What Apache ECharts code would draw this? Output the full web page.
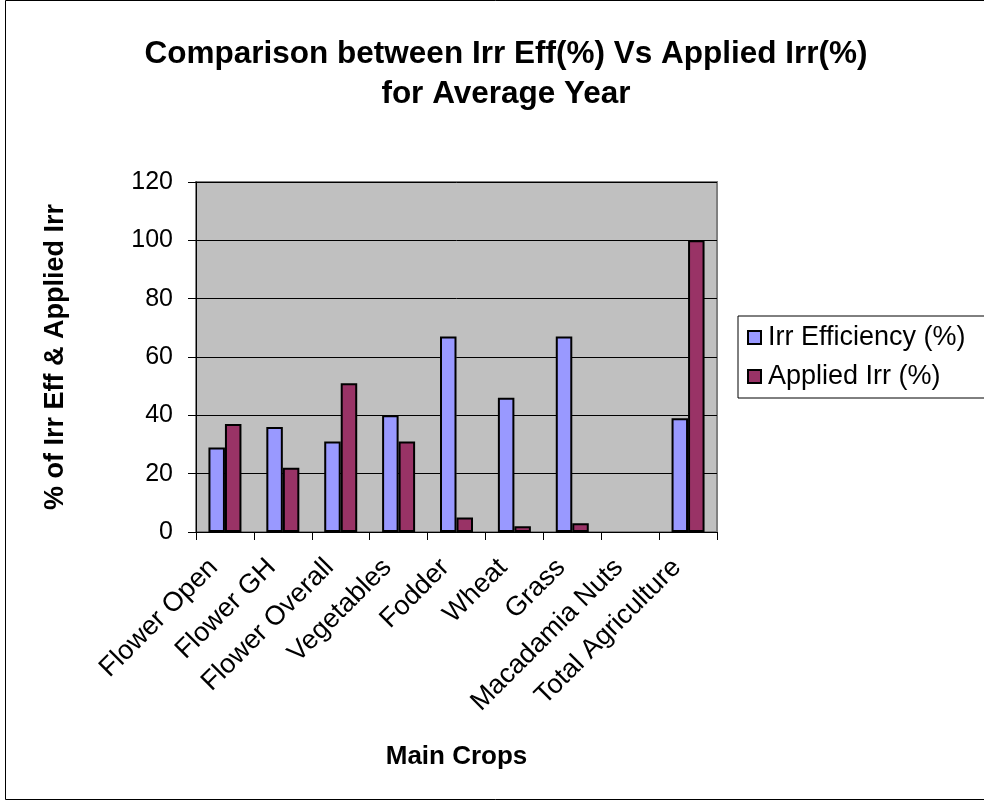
<!DOCTYPE html>
<html>
<head>
<meta charset="utf-8">
<script src="https://cdn.jsdelivr.net/npm/echarts@6/dist/echarts.min.js"></script>
<style>
  html, body { margin: 0; padding: 0; background: #fff; }
  #chart { width: 984px; height: 802px; }
</style>
</head>
<body>
<div id="chart"></div>
<script>
// Crop categories and the two measured series (percent)
const crops = ['Flower Open', 'Flower GH', 'Flower Overall', 'Vegetables', 'Fodder', 'Wheat', 'Grass', 'Macadamia Nuts', 'Total Agriculture'];
const irrEfficiency = [29, 36, 31, 40, 67, 46, 67, null, 39];
const appliedIrr = [37, 22, 51, 31, 5, 2, 3, null, 100];
const seriesNames = ['Irr Efficiency (%)', 'Applied Irr (%)'];

const FONT = '"Liberation Sans", Arial, sans-serif';
const chart = echarts.init(document.getElementById('chart'), null, { renderer: 'canvas' });

chart.setOption({
  backgroundColor: '#ffffff',
  animation: false,
  textStyle: { fontFamily: FONT, color: '#000' },
  graphic: [{
    type: 'rect',
    shape: { x: 5.5, y: 0.5, width: 990, height: 799 },
    style: { fill: 'none', stroke: '#000', lineWidth: 1 },
    silent: true
  }],
  title: {
    text: 'Comparison between Irr Eff(%) Vs Applied Irr(%)\nfor Average Year',
    left: 501,
    top: 29,
    textAlign: 'center',
    textStyle: { fontFamily: FONT, fontSize: 31.5, fontWeight: 'bold', color: '#000', lineHeight: 40 }
  },
  legend: {
    orient: 'vertical',
    left: 738,
    top: 316,
    width: 300,
    padding: [8, 60, 8, 9],
    itemGap: 12,
    itemWidth: 13,
    itemHeight: 13,
    borderColor: '#000',
    borderWidth: 1,
    backgroundColor: '#fff',
    icon: 'rect',
    textStyle: { fontFamily: FONT, fontSize: 27, color: '#000', padding: [0, 0, 0, 2] },
    data: seriesNames
  },
  grid: {
    left: 196,
    top: 182,
    width: 521,
    height: 350,
    show: true,
    backgroundColor: '#c0c0c0',
    borderColor: '#808080',
    borderWidth: 2
  },
  xAxis: {
    type: 'category',
    data: crops,
    name: 'Main Crops',
    nameLocation: 'middle',
    nameGap: 212,
    nameTextStyle: { fontFamily: FONT, fontSize: 26, fontWeight: 'bold', color: '#000' },
    axisLine: { show: true, lineStyle: { color: '#000', width: 1 } },
    axisTick: { show: true, alignWithLabel: false, length: 8, lineStyle: { color: '#000' } },
    axisLabel: { rotate: 45, fontFamily: FONT, fontSize: 27, color: '#000', margin: 20, interval: 0, padding: [0, 16, 0, 0] },
    splitLine: { show: false }
  },
  yAxis: {
    type: 'value',
    min: 0,
    max: 120,
    interval: 20,
    name: '% of Irr Eff & Applied Irr',
    nameLocation: 'middle',
    nameGap: 127,
    nameRotate: 90,
    nameTextStyle: { fontFamily: FONT, fontSize: 27, fontWeight: 'bold', color: '#000' },
    axisLine: { show: true, lineStyle: { color: '#000', width: 1 } },
    axisTick: { show: true, length: 8, lineStyle: { color: '#000' } },
    axisLabel: { fontFamily: FONT, fontSize: 25, color: '#000', margin: 23 },
    splitLine: { show: true, lineStyle: { color: '#000', width: 1 } }
  },
  series: [
    {
      name: seriesNames[0],
      type: 'bar',
      data: irrEfficiency,
      barGap: '0%',
      barCategoryGap: '43%',
      itemStyle: { color: '#9999ff', borderColor: '#000', borderWidth: 2 }
    },
    {
      name: seriesNames[1],
      type: 'bar',
      data: appliedIrr,
      itemStyle: { color: '#993366', borderColor: '#000', borderWidth: 2 }
    }
  ]
});
</script>
</body>
</html>
